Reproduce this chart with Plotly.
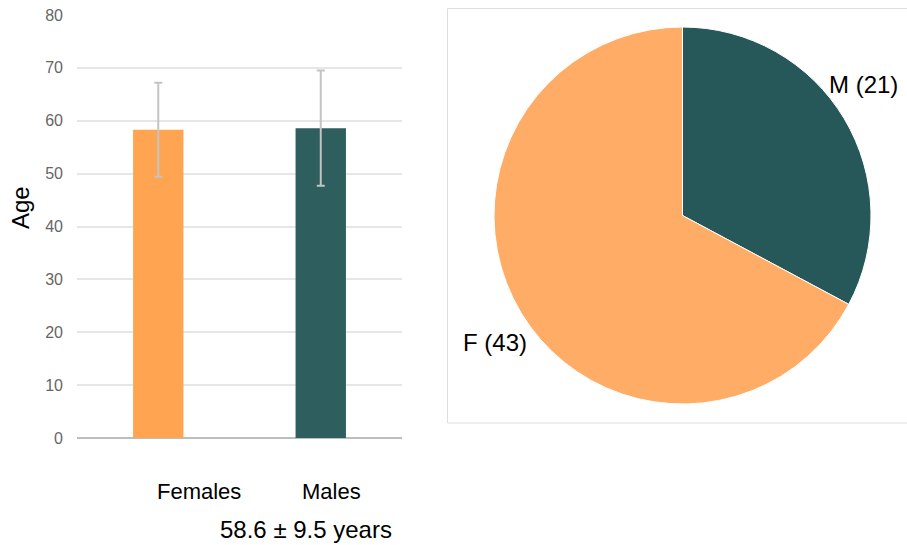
import plotly.graph_objects as go

# ---- data ----
groups = ["Females", "Males"]
mean_age = [58.3, 58.6]
sd_age = [8.9, 10.9]
bar_colors = ["#FFA552", "#2E5E5E"]

pie_labels = ["M", "F"]
pie_counts = [21, 43]
pie_colors = ["#265859", "#FFAD66"]

summary_text = "58.6 \u00b1 9.5 years"
y_ticks = [0, 10, 20, 30, 40, 50, 60, 70, 80]

W, H = 907, 545
FONT = "Liberation Sans, Arial, sans-serif"


def px(x):
    return x / W


def py(y):
    return 1 - y / H


fig = go.Figure()

fig.add_trace(go.Bar(
    x=groups, y=mean_age,
    marker=dict(color=bar_colors, line=dict(width=0)),
    error_y=dict(type="data", array=sd_age, visible=True,
                 color="#c4c4c4", thickness=2, width=4),
    showlegend=False, hoverinfo="skip",
))

# pie centered at (682.5, 215.5), radius 188.5
cx, cy, r = 682.5, 215.5, 188.5
fig.add_trace(go.Pie(
    labels=pie_labels, values=pie_counts,
    marker=dict(colors=pie_colors, line=dict(color="white", width=1)),
    sort=False, direction="clockwise", rotation=0,
    textinfo="none", showlegend=False, hoverinfo="skip",
    automargin=False,
    domain=dict(x=[px(cx - r), px(cx + r)], y=[py(cy + r), py(cy - r)]),
))

fig.update_layout(
    width=W, height=H,
    margin=dict(l=0, r=0, t=0, b=0, autoexpand=False),
    paper_bgcolor="white", plot_bgcolor="white",
    font=dict(family=FONT),
    bargap=0.69,
    xaxis=dict(domain=[px(77), px(402)], showticklabels=False, automargin=False,
               showgrid=False, showline=False, zeroline=False, ticks=""),
    yaxis=dict(domain=[py(438), py(15)], range=[0, 80], automargin=False,
               tickvals=y_ticks, showgrid=True, gridcolor="#e6e6e6",
               gridwidth=1.5, zeroline=True, zerolinecolor="#bdbdbd",
               zerolinewidth=1.5, showline=False, ticks="",
               ticklabelstandoff=13,
               tickfont=dict(size=16, color="#666666", family=FONT)),
)

# box around the pie
fig.add_shape(type="rect", xref="paper", yref="paper",
              x0=px(447.5), x1=px(910), y0=py(423), y1=py(8.5),
              line=dict(color="#dedede", width=1), fillcolor="rgba(0,0,0,0)",
              layer="below")

annos = [
    ("Females", 199, 491, 22, 0),
    ("Males", 331, 491, 22, 0),
    (summary_text, 306, 529, 24, 0),
    ("M (21)", 863, 85, 24, 0),
    ("F (43)", 494.5, 342, 24, 0),
    ("Age", 20, 208, 24, -90),
]
for txt, x, y, s, ang in annos:
    fig.add_annotation(text=txt, xref="paper", yref="paper",
                       x=px(x), y=py(y), xanchor="center", yanchor="middle",
                       textangle=ang, showarrow=False,
                       font=dict(size=s, color="black", family=FONT))

fig.write_html("out.html")
